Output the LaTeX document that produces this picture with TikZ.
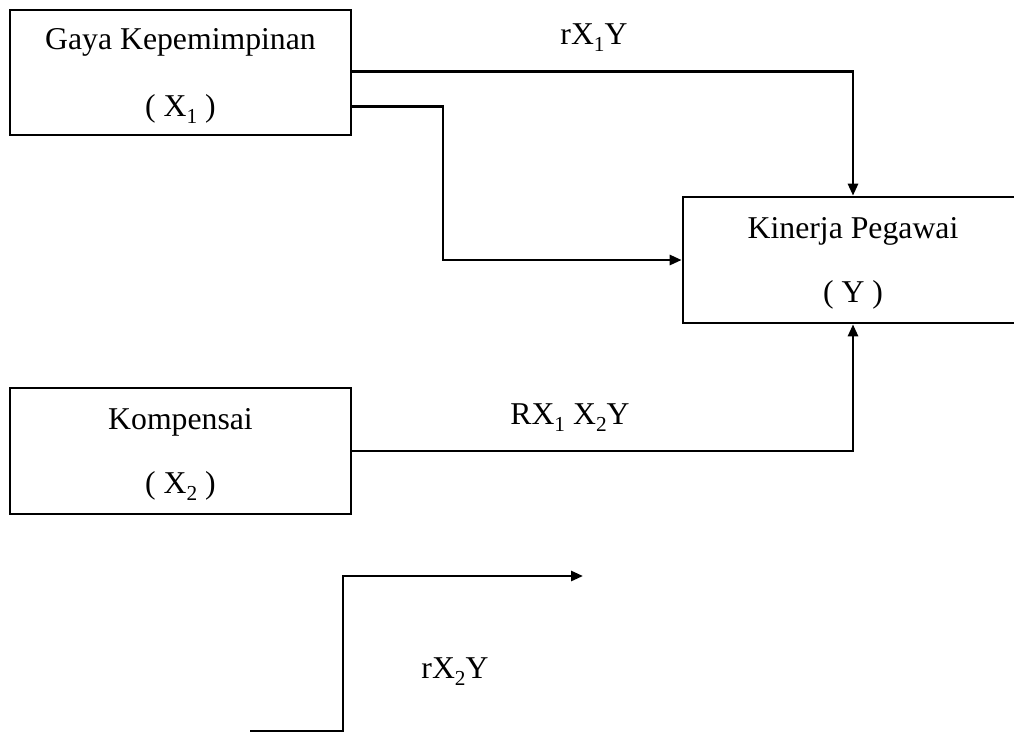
\documentclass[tikz,border=0pt]{standalone}
\usepackage{fontspec}
\setmainfont{Liberation Serif}
\usetikzlibrary{arrows.meta}
\newcommand\mysub[1]{\raisebox{-0.22em}{\fontsize{16}{16}\selectfont #1}}
\begin{document}
\begin{tikzpicture}[x=0.75pt,y=-0.75pt,
  box/.style={draw,line width=2pt,align=center,inner sep=0pt,
    font=\fontsize{23.8}{48.5}\selectfont,text depth=-4pt},
  conn/.style={line width=2pt,-{Triangle[length=9pt,width=7.5pt]}},
  lbl/.style={font=\fontsize{23.8}{27}\selectfont,inner sep=0pt}]
\useasboundingbox (0,0) rectangle (1014,733);
\node[box,minimum width=255.75pt,minimum height=93.75pt,text depth=-8pt,
  font=\fontsize{23.8}{50}\selectfont] (x1) at (180.5,72.5)
  {Gaya Kepemimpinan\\( X\mysub{1} )};
\node[box,minimum width=255pt,minimum height=94.5pt] (y) at (853,260)
  {Kinerja Pegawai\\( Y )};
\node[box,minimum width=255.75pt,minimum height=94.5pt] (x2) at (180.5,451)
  {Kompensai\\( X\mysub{2} )};
\draw[conn] ([yshift=1pt]x1.east) -| (y.north);
\draw[conn] ([yshift=-25.5pt]x1.east) -| (443,260) -- (y.west);
\draw[conn] (x2.east) -| (y.south);
\coordinate (b0) at (250,731);
\coordinate (b1) at (343,731);
\coordinate (b2) at (343,576);
\coordinate (b3) at (583,576);
\draw[conn] (b0) -- (b1) -- (b2) -- (b3);
\node[lbl] (l1) at (594,38) {rX\mysub{1}Y};
\node[lbl] (l2) at (570,418) {RX\mysub{1} X\mysub{2}Y};
\node[lbl] (l3) at (455,672) {rX\mysub{2}Y};
\end{tikzpicture}
\end{document}
